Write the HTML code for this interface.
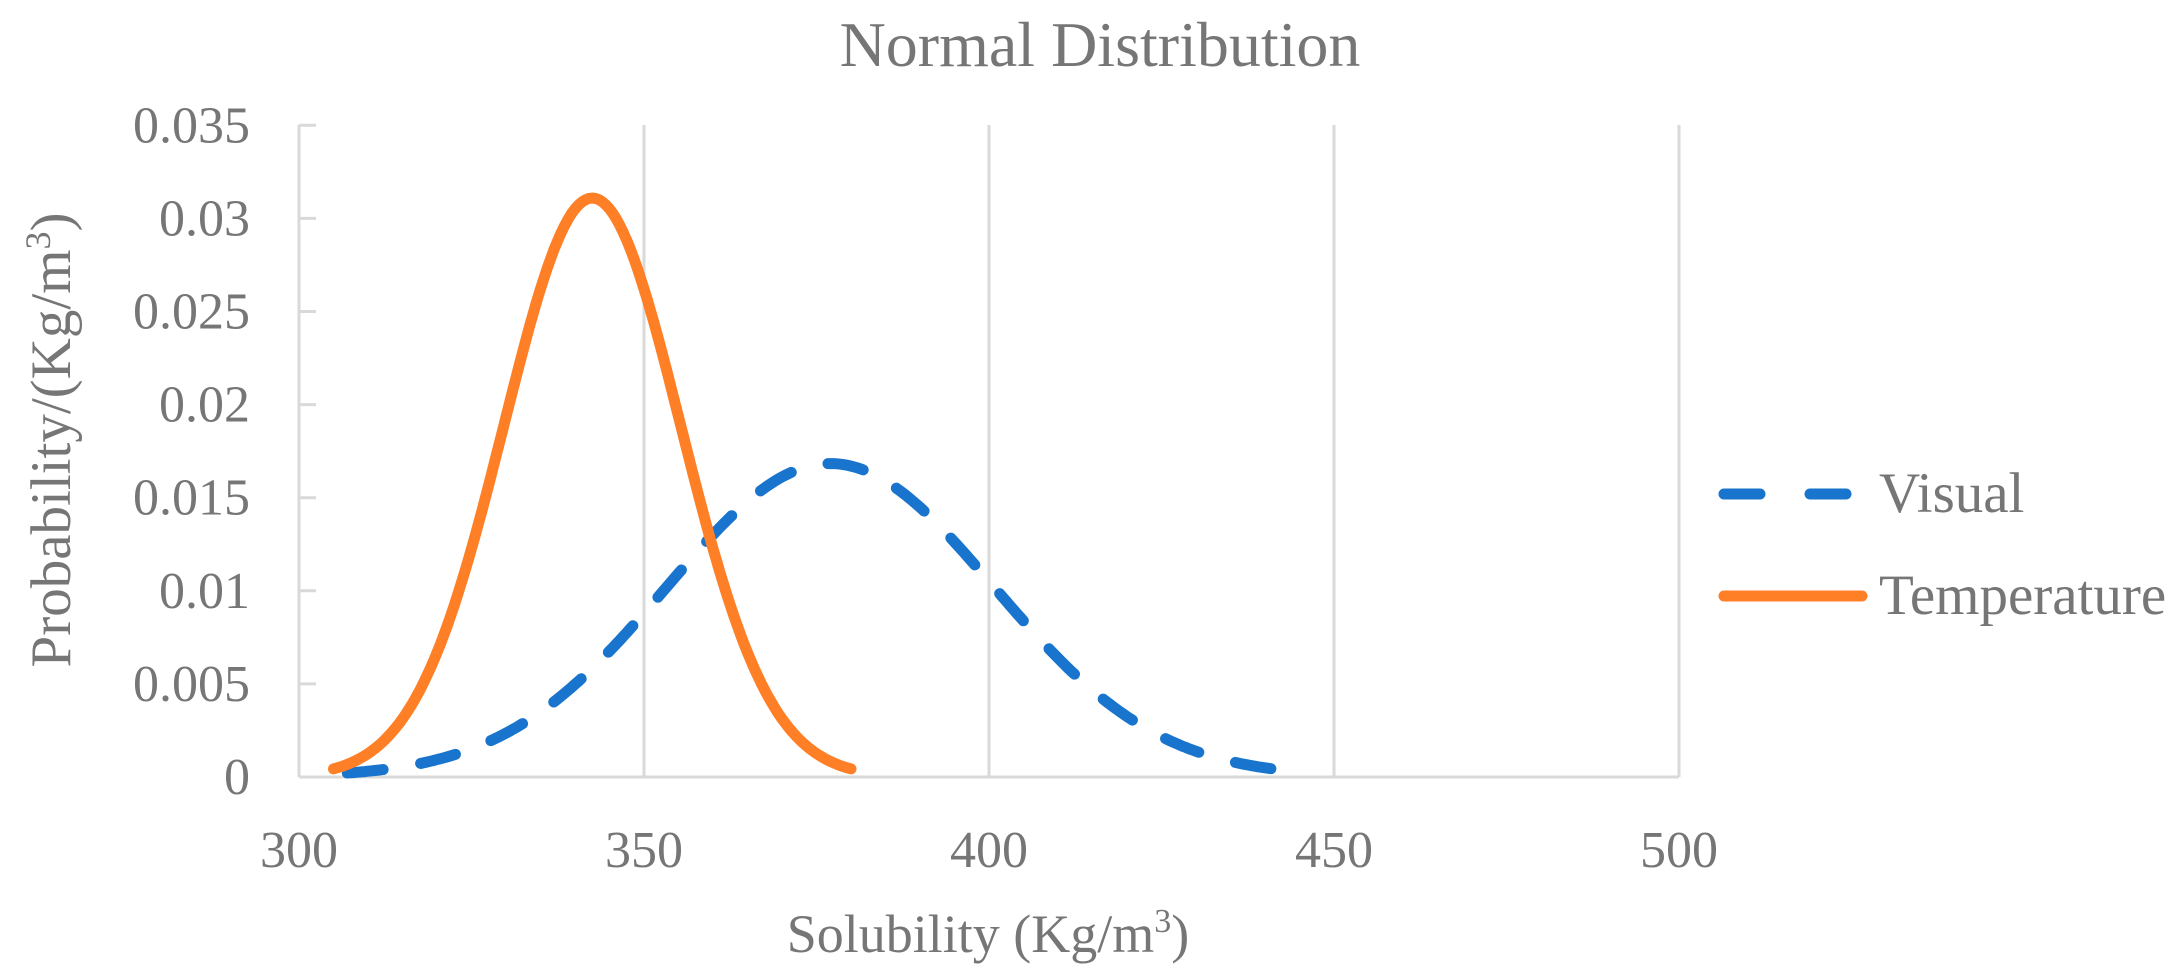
<!DOCTYPE html>
<html><head><meta charset="utf-8"><style>
html,body{margin:0;padding:0;background:#fff;}
svg{display:block;}
text{font-family:"Liberation Serif",serif;fill:#767676;}
</style></head><body>
<svg id="s" width="2183" height="977" viewBox="0 0 2183 977" xmlns="http://www.w3.org/2000/svg">
<text x="1100" y="66" font-size="64" text-anchor="middle">Normal Distribution</text>
<g stroke="#d9d9d9" stroke-width="3">
<line x1="644" y1="125" x2="644" y2="777"/>
<line x1="989" y1="125" x2="989" y2="777"/>
<line x1="1334" y1="125" x2="1334" y2="777"/>
<line x1="1679" y1="125" x2="1679" y2="777"/>
<line x1="299" y1="125" x2="299" y2="777"/>
<line x1="299" y1="777" x2="1679" y2="777"/>
</g>
<g stroke="#d9d9d9" stroke-width="3" id="ticks"></g>
<g font-size="52" text-anchor="end" id="yl"></g>
<g font-size="52" text-anchor="middle">
<text x="299" y="867">300</text><text x="644" y="867">350</text><text x="989" y="867">400</text><text x="1334" y="867">450</text><text x="1679" y="867">500</text>
</g>
<text x="988" y="952" font-size="54" text-anchor="middle">Solubility (Kg/m<tspan font-size="34" dy="-20">3</tspan><tspan dy="20">)</tspan></text>
<text transform="translate(70,440) rotate(-90)" font-size="57" text-anchor="middle">Probability/(Kg/m<tspan font-size="36" dy="-20">3</tspan><tspan dy="20">)</tspan></text>
<path id="vis" fill="none" stroke="#1874cd" stroke-width="11" stroke-linecap="round" stroke-dasharray="36,38"/>
<path id="tmp" fill="none" stroke="#ff7f27" stroke-width="11" stroke-linecap="round"/>
<line x1="1724" y1="494" x2="1846" y2="494" stroke="#1874cd" stroke-width="11" stroke-linecap="round" stroke-dasharray="36,50"/>
<line x1="1724" y1="596" x2="1862" y2="596" stroke="#ff7f27" stroke-width="11" stroke-linecap="round"/>
<text x="1879" y="512" font-size="57">Visual</text>
<text x="1879" y="614" font-size="57">Temperature</text>
</svg>
<script>
var X=function(v){return 299+(v-300)*6.9},Y=function(p){return 777-p*18620};
function pdf(x,m,s){return Math.exp(-0.5*((x-m)/s)*((x-m)/s))/(s*2.5066);}
function path(m,s,a,b){var d="";for(var x=a;x<=b+1e-9;x+=0.5){d+=(d?"L":"M")+X(x).toFixed(1)+","+Y(pdf(x,m,s)).toFixed(1);}return d;}
document.getElementById("tmp").setAttribute("d",path(342.5,12.83,305,380));
document.getElementById("vis").setAttribute("d",path(377,23.7,307,446));
var t=document.getElementById("ticks"),yl=document.getElementById("yl"),lab=["0","0.005","0.01","0.015","0.02","0.025","0.03","0.035"];
for(var i=0;i<8;i++){var y=Y(i*0.005);
t.innerHTML+='<line x1="299" y1="'+y+'" x2="316" y2="'+y+'"/>';
yl.innerHTML+='<text x="250" y="'+(y+17)+'">'+lab[i]+'</text>';}
</script>
</body></html>
